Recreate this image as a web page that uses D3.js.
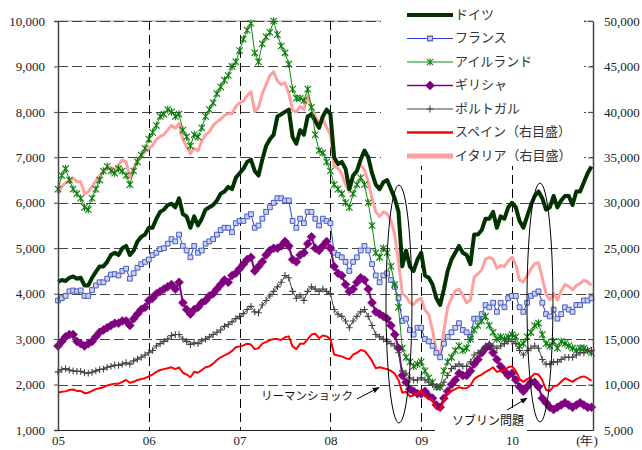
<!DOCTYPE html>
<html><head><meta charset="utf-8">
<script src="https://cdn.jsdelivr.net/npm/d3@7"></script>
<style>body{margin:0;background:#fff}svg{display:block}</style>
</head><body><svg id="c" width="642" height="450"></svg>
<script>
// ---- data (semi-monthly, Jan 2005 - Nov 2010) ----
const yearTicks = ["05","06","07","08","09","10"];
const yearValues = [2005,2006,2007,2008,2009,2010];
const leftTicks = [1000,2000,3000,4000,5000,6000,7000,8000,9000,10000];
const rightTicks = [5000,10000,15000,20000,25000,30000,35000,40000,45000,50000];
const seriesNames = ["ドイツ","フランス","アイルランド","ギリシャ","ポルトガル","スペイン（右目盛）","イタリア（右目盛）"];

const germany = [
4260,4300,4280,4350,4380,4330,4350,4180,4180,4350,4480,4600,4600,4700,4850,4900,4850,5000,5050,4850,4950,5150,5250,5300,
5450,5450,5650,5800,5850,5950,5980,5900,6100,5750,5700,5450,5700,5500,5650,5850,5900,5950,6050,6200,6250,6350,6300,6550,
6650,6750,6900,6950,6700,6600,6950,7250,7400,7500,7900,7950,8000,8050,7450,7300,7600,7500,7900,7950,7800,7650,7900,8050,
7950,7000,6850,6900,6750,6300,6600,6700,6950,7150,7000,6650,6400,6300,6450,6500,6300,6100,5800,4600,4950,4600,4500,4750,
4900,4400,4350,4200,3900,3750,4100,4500,4750,4900,5050,4900,4850,4650,5300,5300,5400,5650,5650,5800,5450,5700,5650,5900,
6000,5900,5600,5450,5700,5950,6150,6250,6100,5850,5900,6150,5900,6050,6150,6150,5950,6250,6250,6450,6650,6800];

const france = [
3850,3900,3950,4050,4070,4050,4070,3950,3950,4080,4180,4250,4250,4330,4420,4430,4400,4500,4550,4330,4450,4570,4650,4700,
4750,4850,4900,4980,5000,5100,5200,5150,5300,5050,4950,4800,5050,4900,4950,5100,5150,5200,5300,5400,5450,5450,5350,5550,
5600,5600,5700,5750,5450,5500,5650,5800,5900,6000,6100,6100,6050,6050,5600,5450,5650,5550,5800,5800,5650,5500,5650,5600,
5550,4900,4850,4800,4700,4500,4700,4800,4950,5050,4950,4650,4400,4250,4400,4450,4300,4150,3900,3400,3450,3200,3100,3250,
3250,3000,2950,2850,2700,2600,2900,3050,3150,3250,3350,3200,3150,3050,3450,3450,3550,3750,3700,3800,3600,3800,3700,3900,
3950,3950,3700,3600,3800,3950,4000,4050,3800,3550,3500,3650,3450,3550,3700,3650,3600,3750,3750,3850,3850,3900];

const ireland = [
6300,6600,6750,6500,6300,6200,6100,5900,5850,6100,6300,6500,6700,6800,6700,6650,6750,6700,6600,6400,6700,6900,7050,7200,
7400,7550,7700,7900,7950,8050,8000,7900,7950,7600,7450,7250,7500,7450,7650,7900,8050,8200,8400,8550,8700,8800,9000,9100,
9350,9600,9800,9950,9300,9100,9500,9650,9750,10000,9700,9450,9300,9050,8500,8300,8300,8250,8500,8100,7500,7150,7100,6900,
6700,6400,6300,6200,6000,5900,6200,6400,6550,6400,6000,5500,4900,4800,5000,4900,4600,4200,3700,2800,2600,2500,2400,2450,
2500,2300,2150,2050,1950,1950,2300,2500,2600,2750,2850,2750,2800,3000,3200,3300,3400,3500,3300,3150,3000,3050,3000,3050,
3100,3050,2850,2900,3050,3150,3300,3350,3100,2900,2850,2950,2800,2950,2900,2850,2800,2750,2800,2800,2750,2700];

const greece = [
2850,2950,3050,3100,3100,2950,2900,2850,2900,2950,3050,3150,3200,3250,3300,3350,3350,3400,3400,3300,3450,3550,3650,3700,
3850,3900,4000,4050,4100,4150,4200,4100,4250,3800,3650,3550,3650,3700,3800,3850,3950,4000,4100,4200,4300,4250,4400,4450,
4550,4650,4750,4800,4500,4600,4700,4850,4950,5000,5000,5050,5150,5050,4750,4700,4850,4900,5100,5250,5000,4950,5050,5150,
5000,4600,4450,4400,4200,4050,4100,4250,4350,4300,4100,3800,3600,3550,3500,3450,3300,3100,2800,2200,2050,1900,1850,1800,
1800,1850,1750,1700,1550,1500,1700,1850,2000,2100,2250,2200,2200,2300,2450,2550,2700,2800,2850,2700,2550,2400,2300,2200,
2250,2100,1950,1850,1950,2050,2050,1950,1700,1600,1500,1450,1500,1550,1600,1550,1500,1550,1600,1550,1500,1500];

const portugal = [
2280,2330,2350,2320,2300,2290,2290,2260,2250,2270,2300,2330,2340,2380,2400,2430,2420,2450,2480,2450,2520,2560,2600,2650,
2700,2750,2850,2900,2950,3000,3080,3100,3100,3000,2950,2880,2920,2900,2960,3000,3050,3100,3150,3200,3280,3320,3380,3450,
3500,3560,3650,3720,3600,3580,3750,3850,3950,4050,4150,4250,4400,4350,4050,3900,3950,3850,4050,4150,4100,4050,4100,4050,
4000,3650,3550,3500,3400,3250,3400,3500,3600,3650,3500,3300,3100,3050,3000,2950,2900,2850,2700,2300,2250,2150,2100,2100,
2150,2100,2050,2000,1950,1950,2050,2200,2350,2400,2450,2400,2400,2500,2650,2700,2750,2850,2900,2850,2800,2850,2900,2950,
2950,2900,2750,2650,2750,2800,2850,2800,2550,2450,2450,2500,2500,2550,2600,2600,2600,2650,2700,2700,2750,2750];

const spain = [
9100,9200,9250,9400,9450,9300,9300,9050,9100,9300,9500,9600,9700,9900,10000,10100,10100,10300,10500,10200,10300,10500,10600,10700,
10900,11100,11400,11600,11700,11800,11900,11700,11900,11300,11100,10800,11400,11300,11600,11900,12000,12300,12700,13000,13200,13400,13700,14100,
14200,14300,14500,14400,13900,14000,14500,14700,14900,15000,15000,14900,15200,15300,14200,13900,14500,14500,15000,15500,15600,15100,15400,15300,
15000,13300,13200,13100,12900,12800,13300,13500,13800,13700,13200,12600,11800,11900,11800,11700,11500,11200,10500,9100,9200,8700,8800,9000,
9300,8700,8500,8200,7300,7200,8300,9000,9300,9500,9700,9600,9600,9900,10600,10900,11100,11400,11600,11900,11400,11500,11600,11900,
12000,11500,10600,10300,10600,10800,11200,11100,10500,9400,9300,9800,9900,10300,10700,10500,10300,10600,10800,10900,10700,10400];

const italy = [
31000,31800,32200,32400,32700,32300,32300,31000,31200,31800,32400,33000,33400,33800,33900,33600,34200,34700,34500,32800,33800,34700,35200,35600,
36000,36300,37000,37300,37500,38000,38500,38200,38700,37000,36200,35400,36000,35700,36800,37500,37800,38500,38900,39200,39600,39800,39800,40600,
41000,41200,41800,42200,40000,40500,42000,43000,44000,44400,43400,43000,43200,42000,40200,40000,40600,40300,41800,40500,39500,38700,39200,38300,
37500,34000,33800,33200,32000,31200,32800,33500,34200,33600,32300,30500,29000,28500,29000,28800,28000,26500,23500,20000,19700,19000,18800,19300,
19500,18200,17700,16000,13500,13000,16000,18500,19500,20300,20500,19800,19000,19300,21800,22200,22600,23800,24000,23800,22800,23100,23000,23600,
24000,23200,21500,21300,22000,22700,23300,23400,21700,20000,19300,20000,19300,20300,21000,20800,20400,20900,21100,21500,21300,20900];

// date of each point: 1st and 16th of each month starting Jan 2005 (decimal year)
const dates = germany.map((_, i) => 2005 + i / 24);

// ---- chart ----
const svg = d3.select("#c");
const M = {l: 58, r: 593, t: 21, b: 430};
const x = d3.scaleLinear().domain([2005, 2010.892]).range([M.l, M.r]);
const yL = d3.scaleLinear().domain([1000, 10000]).range([M.b, M.t]);
const yR = d3.scaleLinear().domain([5000, 50000]).range([M.b, M.t]);

// top border
svg.append("line").attr("x1", M.l).attr("x2", M.r).attr("y1", M.t).attr("y2", M.t)
  .attr("stroke", "#bdbdbd").attr("stroke-width", 1.5);

// horizontal grid
svg.append("g").selectAll("line").data(leftTicks.slice(1)).join("line")
  .attr("x1", M.l).attr("x2", M.r)
  .attr("y1", d => Math.round(yL(d)) + 0.5).attr("y2", d => Math.round(yL(d)) + 0.5)
  .attr("stroke", "#444").attr("stroke-width", 1.1).attr("stroke-dasharray", "10,4");

// vertical grid
svg.append("g").selectAll("line").data(yearValues.slice(1)).join("line")
  .attr("x1", d => Math.round(x(d)) + 0.5).attr("x2", d => Math.round(x(d)) + 0.5)
  .attr("y1", M.t).attr("y2", M.b)
  .attr("stroke", "#000").attr("stroke-width", 1).attr("stroke-dasharray", "9,5");

// series
const lineL = d3.line().x((d, i) => x(dates[i])).y(d => yL(d));
const lineR = d3.line().x((d, i) => x(dates[i])).y(d => yR(d));

function drawLine(data, gen, color, width) {
  svg.append("path").datum(data).attr("d", gen).attr("fill", "none")
    .attr("stroke", color).attr("stroke-width", width).attr("stroke-linejoin", "round");
}
const sym = {
  square: r => `M${-r},${-r}h${2*r}v${2*r}h${-2*r}Z`,
  diamond: r => `M0,${-r}L${r},0L0,${r}L${-r},0Z`,
  plus: r => `M${-r},0H${r}M0,${-r}V${r}`,
  aster: r => `M${-r},${-r}L${r},${r}M${-r},${r}L${r},${-r}M0,${-r*1.2}V${r*1.2}`
};
function drawMarkers(data, yS, path, stroke, fill, sw) {
  svg.append("g").selectAll("path").data(data).join("path")
    .attr("transform", (d, i) => `translate(${x(dates[i])},${yS(d)})`)
    .attr("d", path).attr("fill", fill).attr("stroke", stroke).attr("stroke-width", sw);
}

drawLine(italy, lineR, "#ff9f9f", 3);
drawLine(germany, lineL, "#003300", 4);
drawLine(france, lineL, "#2b3fe0", 1);
drawMarkers(france, yL, sym.square(2.4), "#4a5cc0", "#c9d2f2", 1);
drawLine(ireland, lineL, "#108a10", 1);
drawMarkers(ireland, yL, sym.aster(3.2), "#0a7d0a", "none", 1.1);
drawLine(greece, lineL, "#800080", 2);
drawMarkers(greece, yL, sym.diamond(4.5), "#800080", "#800080", 0.5);
drawLine(portugal, lineL, "#444", 1);
drawMarkers(portugal, yL, sym.plus(3.4), "#444", "none", 1.1);
drawLine(spain, lineR, "#ff0000", 2);

// axes
const fontNum = "'Liberation Serif','Times New Roman',serif";
const axL = svg.append("g").attr("transform", `translate(${M.l},0)`)
  .call(d3.axisLeft(yL).tickValues(leftTicks).tickFormat(d3.format(",")).tickSize(4).tickPadding(9));
const axR = svg.append("g").attr("transform", `translate(${M.r},0)`)
  .call(d3.axisRight(yR).tickValues(rightTicks).tickFormat(d3.format(",")).tickSizeInner(-5).tickSizeOuter(0).tickPadding(11));
const axB = svg.append("g").attr("transform", `translate(0,${M.b})`)
  .call(d3.axisBottom(x).tickValues(yearValues).tickFormat((d, i) => yearTicks[i]).tickSize(0).tickPadding(6));
[axL, axR, axB].forEach(a => {
  a.attr("font-family", fontNum);
  a.selectAll("text").attr("font-family", fontNum).attr("font-size", 13).attr("fill", "#222");
  a.selectAll("line").attr("stroke", "#444");
  a.select(".domain").attr("stroke", "#444").attr("stroke-width", 1.5);
});
axB.select(".domain").attr("stroke", "#222").attr("stroke-width", 1.2);
svg.append("text").attr("x", 587).attr("y", 445).attr("text-anchor", "middle")
  .attr("font-family", fontNum).attr("font-size", 13).attr("fill", "#222").text("(年)");

// annotations
const cjk = "'Noto Sans CJK JP','Noto Sans',sans-serif";
const ellipses = [{t0: 2008.612, t1: 2008.898, v0: 1154, v1: 6390}, {t0: 2010.165, t1: 2010.451, v0: 1176, v1: 6434}];
svg.append("g").selectAll("ellipse").data(ellipses).join("ellipse")
  .attr("cx", d => (x(d.t0) + x(d.t1)) / 2).attr("cy", d => (yL(d.v0) + yL(d.v1)) / 2)
  .attr("rx", d => (x(d.t1) - x(d.t0)) / 2).attr("ry", d => (yL(d.v0) - yL(d.v1)) / 2)
  .attr("fill", "none").attr("stroke", "#000").attr("stroke-width", 1);

svg.append("defs").append("marker").attr("id", "ah").attr("viewBox", "0 0 10 10")
  .attr("refX", 9).attr("refY", 5).attr("markerWidth", 7).attr("markerHeight", 7)
  .attr("orient", "auto").append("path").attr("d", "M0,1L10,5L0,9Z").attr("fill", "#000");

// Lehman label
svg.append("rect").attr("x", x(2008.165) - 92).attr("y", yL(1660) - 10).attr("width", 98).attr("height", 22).attr("fill", "#fff");
svg.append("text").attr("x", x(2008.249)).attr("y", yL(1726)).attr("text-anchor", "end")
  .attr("dominant-baseline", "middle").attr("font-family", cjk).attr("font-size", 11.5).attr("fill", "#111").text("リーマンショック");
svg.append("line").attr("x1", x(2008.293)).attr("y1", yL(1682)).attr("x2", x(2008.535)).attr("y2", yL(1935))
  .attr("stroke", "#000").attr("stroke-width", 1).attr("marker-end", "url(#ah)");

// Sovereign label
svg.append("rect").attr("x", x(2009.152)).attr("y", yL(1390)).attr("width", 92).attr("height", 22).attr("fill", "#fff");
svg.append("text").attr("x", x(2009.339)).attr("y", yL(1176)).attr("dominant-baseline", "middle")
  .attr("font-family", cjk).attr("font-size", 12).attr("fill", "#111").text("ソブリン問題");
svg.append("line").attr("x1", x(2009.945)).attr("y1", yL(1440)).attr("x2", x(2010.165)).attr("y2", yL(1700))
  .attr("stroke", "#000").attr("stroke-width", 1).attr("marker-end", "url(#ah)");

// legend
const lg = svg.append("g");
lg.append("rect").attr("x", 381).attr("y", 0).attr("width", 203).attr("height", 166).attr("fill", "#fff");
const legendStyles = [
  {c: "#003300", w: 4, m: null},
  {c: "#2b3fe0", w: 1, m: "square"},
  {c: "#108a10", w: 1, m: "aster"},
  {c: "#800080", w: 1.5, m: "diamond"},
  {c: "#444", w: 1, m: "plus"},
  {c: "#ff0000", w: 2.5, m: null},
  {c: "#ff9f9f", w: 5, m: null}
];
seriesNames.forEach((name, i) => {
  const yy = 15 + i * 23.5;
  const s = legendStyles[i];
  lg.append("line").attr("x1", 407).attr("x2", 453).attr("y1", yy).attr("y2", yy)
    .attr("stroke", s.c).attr("stroke-width", s.w);
  if (s.m) {
    const p = s.m === "square" ? sym.square(2.4) : s.m === "aster" ? sym.aster(3.2) : s.m === "diamond" ? sym.diamond(4) : sym.plus(3.4);
    lg.append("path").attr("transform", `translate(430,${yy})`).attr("d", p)
      .attr("fill", s.m === "square" ? "#c9d2f2" : s.m === "diamond" ? "#800080" : "none")
      .attr("stroke", s.m === "square" ? "#4a5cc0" : s.c).attr("stroke-width", 1.1);
  }
  lg.append("text").attr("x", 455).attr("y", yy).attr("dominant-baseline", "middle")
    .attr("font-family", cjk).attr("font-size", 13).attr("fill", "#333").text(name);
});
</script>
</body></html>
